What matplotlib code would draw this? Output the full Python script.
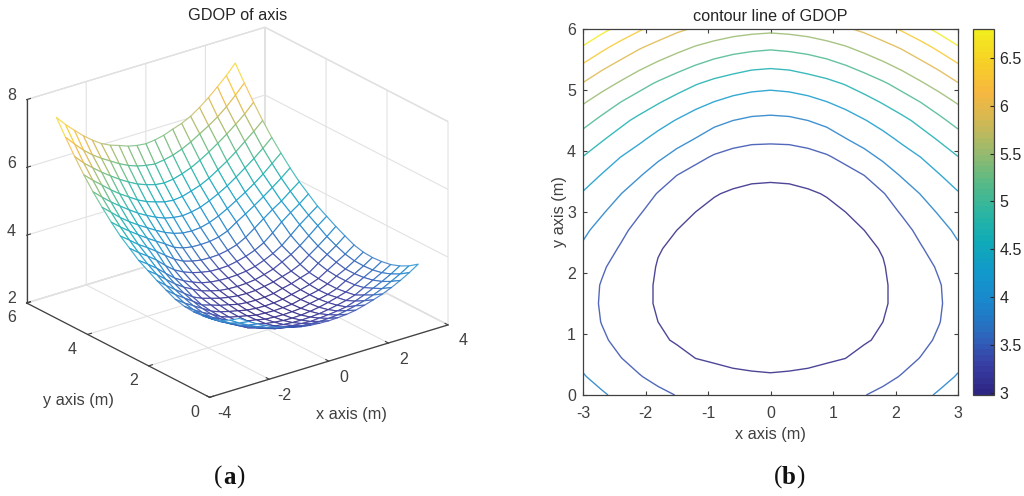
import numpy as np
import matplotlib
matplotlib.use("Agg")
import matplotlib.pyplot as plt
from matplotlib.colors import LinearSegmentedColormap, Normalize
from matplotlib.cm import ScalarMappable
from mpl_toolkits.mplot3d import proj3d

plt.rcParams["font.family"] = ["Liberation Sans", "DejaVu Sans"]
plt.rcParams["axes.unicode_minus"] = False

# mesh positions (m)
x_half = [0, 0.3, 0.6, 0.9, 1.2, 1.5, 1.8, 2.1, 2.4, 2.7, 3.0]
y_vals = [0, 0.3, 0.6, 0.9, 1.2, 1.5, 1.8, 2.1, 2.4, 2.7, 3.0, 3.3, 3.6, 3.9, 4.2, 4.5, 4.8, 5.1, 5.4, 5.7, 6.0]

# GDOP, one row per y, x from 0 to 3 (the surface is symmetric)
gdop_half = [
    [3.19, 3.20, 3.22, 3.26, 3.33, 3.41, 3.50, 3.61, 3.74, 3.89, 4.06],
    [3.03, 3.04, 3.06, 3.11, 3.17, 3.24, 3.33, 3.44, 3.57, 3.71, 3.87],
    [2.89, 2.91, 2.93, 2.96, 3.00, 3.09, 3.19, 3.31, 3.43, 3.57, 3.73],
    [2.79, 2.80, 2.82, 2.86, 2.91, 2.97, 3.05, 3.19, 3.33, 3.47, 3.63],
    [2.71, 2.72, 2.75, 2.79, 2.85, 2.92, 3.00, 3.13, 3.27, 3.41, 3.58],
    [2.67, 2.68, 2.70, 2.76, 2.81, 2.87, 2.96, 3.11, 3.24, 3.39, 3.56],
    [2.65, 2.66, 2.68, 2.74, 2.80, 2.86, 2.96, 3.11, 3.24, 3.40, 3.58],
    [2.65, 2.66, 2.69, 2.75, 2.81, 2.88, 2.98, 3.14, 3.30, 3.46, 3.65],
    [2.68, 2.69, 2.72, 2.79, 2.85, 2.94, 3.02, 3.21, 3.39, 3.57, 3.78],
    [2.74, 2.75, 2.79, 2.84, 2.92, 3.00, 3.12, 3.31, 3.50, 3.70, 3.92],
    [2.81, 2.82, 2.85, 2.92, 3.00, 3.13, 3.27, 3.45, 3.66, 3.88, 4.08],
    [2.92, 2.93, 2.96, 3.02, 3.12, 3.24, 3.40, 3.62, 3.85, 4.05, 4.24],
    [3.05, 3.06, 3.11, 3.18, 3.28, 3.42, 3.63, 3.87, 4.07, 4.25, 4.46],
    [3.24, 3.25, 3.30, 3.38, 3.52, 3.71, 3.91, 4.10, 4.27, 4.48, 4.68],
    [3.49, 3.50, 3.55, 3.65, 3.83, 3.99, 4.16, 4.34, 4.53, 4.73, 4.95],
    [3.75, 3.77, 3.84, 3.95, 4.09, 4.25, 4.41, 4.59, 4.79, 5.02, 5.25],
    [4.06, 4.09, 4.15, 4.26, 4.39, 4.54, 4.72, 4.91, 5.11, 5.33, 5.57],
    [4.38, 4.41, 4.49, 4.58, 4.71, 4.88, 5.05, 5.25, 5.47, 5.69, 5.93],
    [4.75, 4.78, 4.86, 4.96, 5.10, 5.26, 5.44, 5.63, 5.84, 6.06, 6.33],
    [5.17, 5.21, 5.27, 5.37, 5.50, 5.66, 5.82, 6.00, 6.22, 6.48, 6.76],
    [5.63, 5.66, 5.72, 5.82, 5.91, 6.04, 6.22, 6.43, 6.67, 6.92, 7.21],
]

contour_levels = [3.0, 3.42, 3.84, 4.27, 4.69, 5.11, 5.53, 5.96, 6.38, 6.8]
cbar_ticks = [3, 3.5, 4, 4.5, 5, 5.5, 6, 6.5]
cbar_labels = ["3", "3.5", "4", "4.5", "5", "5.5", "6", "6.5"]
x3_ticks = [-4, -2, 0, 2, 4]
y3_ticks = [0, 2, 4, 6]
z3_ticks = [2, 4, 6, 8]

# parula, as it looks in the picture
parula = LinearSegmentedColormap.from_list("parula", [
    (0.18, 0.15, 0.52), (0.22, 0.25, 0.65), (0.17, 0.42, 0.75), (0.10, 0.53, 0.80),
    (0.07, 0.60, 0.80), (0.06, 0.67, 0.72), (0.17, 0.71, 0.63), (0.35, 0.73, 0.52),
    (0.60, 0.73, 0.43), (0.82, 0.72, 0.33), (0.97, 0.72, 0.25), (0.97, 0.82, 0.15),
    (0.95, 0.93, 0.12)], N=64)

half = np.array(gdop_half)
Z = np.hstack([half[:, :0:-1], half])
xs = np.r_[-np.array(x_half[:0:-1]), x_half]
ys = np.array(y_vals)
X, Y = np.meshgrid(xs, ys)

GREY = "#404040"
W, H = 1024, 496
fig = plt.figure(figsize=(W / 100, H / 100), dpi=100)

# (a) mesh
ax3 = fig.add_axes([-0.0398, 0.0585, 0.53, 1.0], projection="3d", proj_type="ortho")
ax3.view_init(elev=23.3, azim=-127.5)
ax3.set_box_aspect((300, 300, 221), zoom=0.938)
surf = ax3.plot_surface(X, Y, Z, rstride=1, cstride=1, color="white", shade=False, linewidth=0.85)
mean_z = (Z[:-1, :-1] + Z[1:, :-1] + Z[:-1, 1:] + Z[1:, 1:]) / 4
surf.set_edgecolor(parula(Normalize(Z.min(), Z.max())(mean_z.ravel()), alpha=0.8))
ax3.set_xlim(-4, 4)
ax3.set_ylim(0, 6)
ax3.set_zlim(2, 8)
ax3.set_xticks(x3_ticks)
ax3.set_yticks(y3_ticks)
ax3.set_zticks(z3_ticks)
ax3.set_xticklabels([])
ax3.set_yticklabels([])
ax3.set_zticklabels([])
for axis in (ax3.xaxis, ax3.yaxis, ax3.zaxis):
    axis.set_pane_color((1, 1, 1, 1))
    axis.pane.set_edgecolor("#dcdcdc")
    axis.line.set_color(GREY)
    axis.line.set_linewidth(0.9)
    axis._axinfo["grid"].update(color="#e2e2e2", linewidth=0.8)
    axis._axinfo["tick"].update(inward_factor=0.0, outward_factor=0.2)
ax3.tick_params(colors=GREY, width=0.8)


# tick labels of the 3d axes sit at a fixed pixel offset from their tick
def label3d(x, y, z, text, dx, dy):
    px, py, _ = proj3d.proj_transform(x, y, z, ax3.get_proj())
    ax3.annotate(text, xy=(px, py), xytext=(dx, -dy), textcoords="offset pixels", ha="center", va="center",
                 fontsize=11.5, color=GREY, annotation_clip=False)


for v in x3_ticks:
    label3d(v, 0, 2, str(v), 15, 16)
for v in y3_ticks:
    label3d(-4, v, 2, str(v), -15, 15)
for v in z3_ticks:
    label3d(-4, 6, v, str(v), -15, -4)

fig.text(351 / W, 1 - 414 / H, "x axis (m)", fontsize=11.7, color=GREY, ha="center", va="center")
fig.text(78 / W, 1 - 400 / H, "y axis (m)", fontsize=11.7, color=GREY, ha="center", va="center")
fig.text(238 / W, 1 - 15 / H, "GDOP of axis", fontsize=11.7, color="#262626", ha="center", va="center")

# (b) contour
ax2 = fig.add_axes([583 / W, 1 - 395 / H, 375 / W, 366 / H])
ax2.contour(X, Y, Z, levels=contour_levels, cmap=parula, vmin=3, vmax=6.8, linewidths=1.0, alpha=0.85)
ax2.set_xlim(-3, 3)
ax2.set_ylim(0, 6)
ax2.set_xticks(range(-3, 4))
ax2.set_yticks(range(0, 7))
ax2.tick_params(direction="in", top=True, right=True, colors=GREY, labelsize=11.5, length=3, width=0.8, pad=8)
ax2.tick_params(axis="y", pad=5)
for s in ax2.spines.values():
    s.set_color(GREY)
    s.set_linewidth(0.9)
ax2.set_xlabel("x axis (m)", fontsize=11.7, color=GREY, labelpad=4)
ax2.set_ylabel("y axis (m)", fontsize=11.7, color=GREY, labelpad=0)
ax2.set_title("contour line of GDOP", fontsize=11.7, color="#262626", pad=6)

cax = fig.add_axes([973 / W, 1 - 395 / H, 21 / W, 366 / H])
cb = fig.colorbar(ScalarMappable(Normalize(2.98, 6.8), parula), cax=cax)
cb.set_ticks(cbar_ticks, labels=cbar_labels)
cb.ax.tick_params(direction="in", colors="#262626", labelsize=11.5, length=3, width=0.8, pad=4)
cb.outline.set_edgecolor(GREY)
cb.outline.set_linewidth(0.9)

# panel letters
for cx, letter in [(229, "a"), (789, "b")]:
    fig.text((cx - 7) / W, 1 - 477 / H, "(", family="Liberation Serif", fontsize=18, ha="right", va="center", color="#111111")
    fig.text(cx / W, 1 - 477 / H, letter, family="Liberation Serif", weight="bold", fontsize=18, ha="center", va="center", color="#111111")
    fig.text((cx + 7) / W, 1 - 477 / H, ")", family="Liberation Serif", fontsize=18, ha="left", va="center", color="#111111")

fig.savefig("out.png", dpi=100)
